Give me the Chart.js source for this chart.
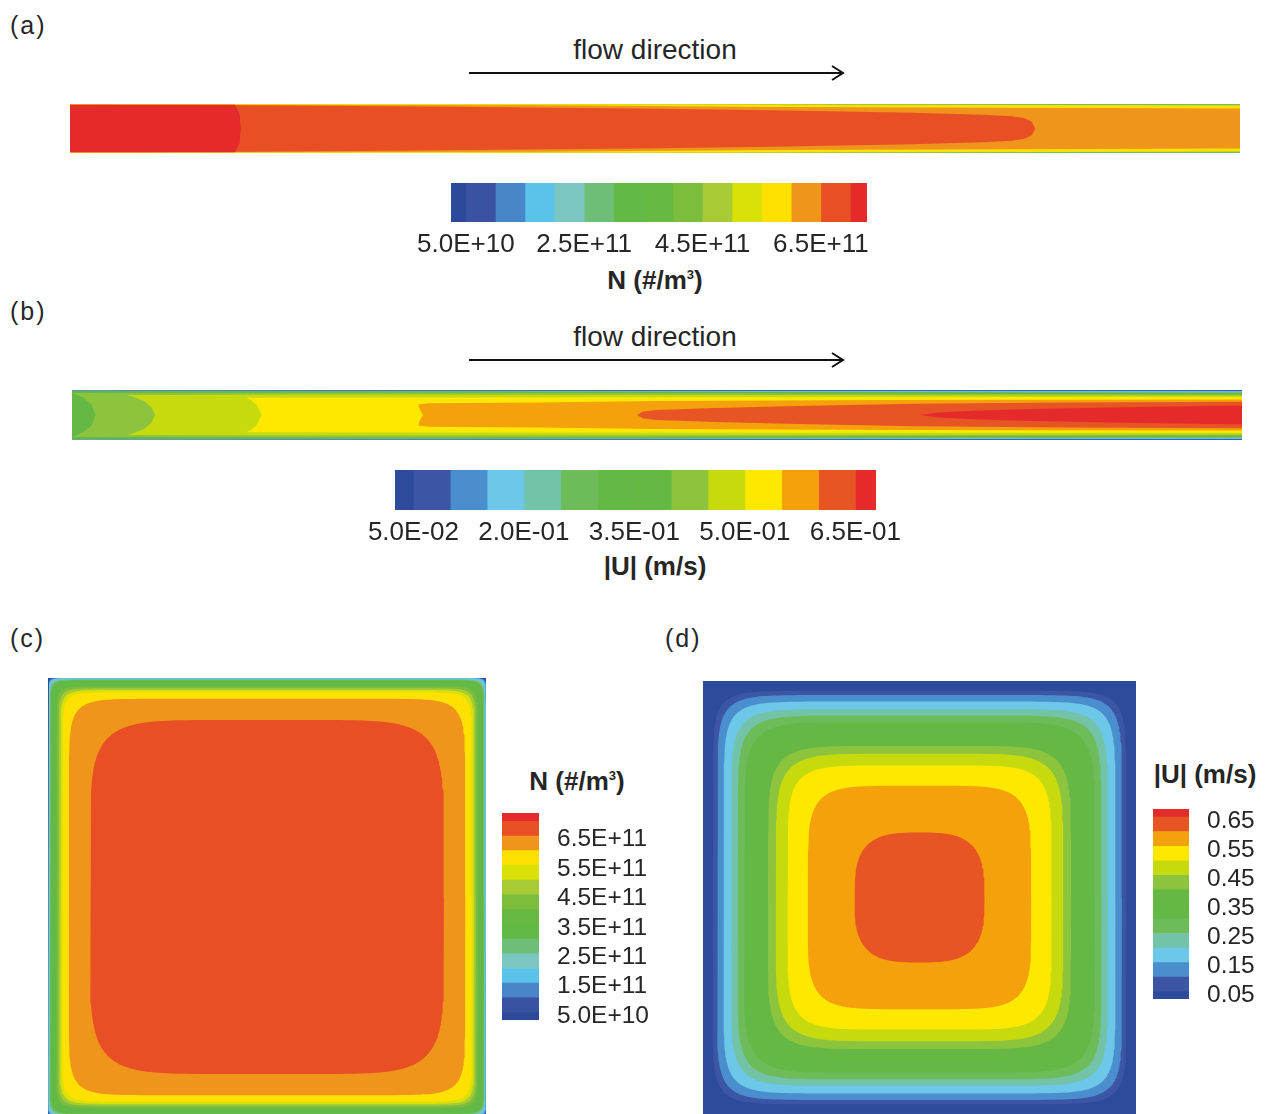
<!DOCTYPE html>
<html>
<head>
<meta charset="utf-8">
<script src="https://cdn.jsdelivr.net/npm/chart.js@4.4.1/dist/chart.umd.min.js"></script>
<style>
  html, body { margin: 0; padding: 0; background: #fff; }
  body { position: relative; width: 1265px; height: 1114px; overflow: hidden;
         font-family: "Liberation Sans", Arial, sans-serif; color: #262626; }
  canvas, .t, svg { position: absolute; }
  .t { white-space: nowrap; line-height: 1; }
  .panel { font-size: 25px; letter-spacing: 2px; }
  .flow { font-size: 28px; transform: translateX(-50%); }
  .ttl { font-size: 26px; font-weight: bold; transform: translateX(-50%); }
  .sup { font-size: 0.5em; position: relative; top: -0.8em; }
</style>
</head>
<body>
<div class="t panel" style="left:10px;top:13px">(a)</div>
<div class="t flow" style="left:655px;top:36px">flow direction</div>
<div class="t panel" style="left:10px;top:299px">(b)</div>
<div class="t flow" style="left:655px;top:323px">flow direction</div>
<div class="t panel" style="left:10px;top:626px">(c)</div>
<div class="t panel" style="left:665px;top:626px">(d)</div>

<svg style="left:0;top:0" width="1265" height="400">
  <g stroke="#111" stroke-width="2" fill="none">
    <path d="M469 73 H842 M832 66 L843 73 L832 80"/>
    <path d="M469 360 H842 M832 353 L843 360 L832 367"/>
  </g>
</svg>

<canvas id="chanA"></canvas>
<canvas id="barA"></canvas>
<div class="t ttl" style="left:655px;top:267px">N (#/m<span class="sup">3</span>)</div>

<canvas id="chanB"></canvas>
<canvas id="barB"></canvas>
<div class="t ttl" style="left:655px;top:553px">|U| (m/s)</div>

<canvas id="secC"></canvas>
<div class="t ttl" style="left:577px;top:768px">N (#/m<span class="sup">3</span>)</div>
<canvas id="barC"></canvas>

<canvas id="secD"></canvas>
<div class="t ttl" style="left:1205px;top:761px">|U| (m/s)</div>
<canvas id="barD"></canvas>

<script>
// contour palettes, low to high
const nColors = ['#2D4A9A', '#3A52A2', '#4886C7', '#5BC2EA', '#7BC6C0', '#6EBE78', '#63B946', '#68B944',
                 '#7DBD3E', '#A7CB34', '#D9E106', '#FEE101', '#EF951C', '#E84F25', '#E42A2B'];
const uColors = ['#2E4A9B', '#3C56A5', '#4A8ECE', '#6CC7E8', '#72C3A8', '#6EBB5A', '#63B846',
                 '#66B844', '#8DC43E', '#C6DA0D', '#FFE800', '#F4A10B', '#E85524', '#E42A2B'];

// contour level edges of the legends
const nEdges = [2.5e10, 5e10, 1e11, 1.5e11, 2e11, 2.5e11, 3e11, 3.5e11, 4e11, 4.5e11,
                5e11, 5.5e11, 6e11, 6.5e11, 7e11, 7.28e11];
const uEdges = [0.025, 0.05, 0.1, 0.15, 0.2, 0.25, 0.3, 0.35, 0.4, 0.45, 0.5, 0.55, 0.6, 0.65, 0.678];

// legend tick labels
const nTicksRow = [5e10, 2.5e11, 4.5e11, 6.5e11];
const uTicksRow = [0.05, 0.2, 0.35, 0.5, 0.65];
const nTicksCol = [5e10, 1.5e11, 2.5e11, 3.5e11, 4.5e11, 5.5e11, 6.5e11];
const uTicksCol = [0.05, 0.15, 0.25, 0.35, 0.45, 0.55, 0.65];

// (a) N along the channel: x in % of length, half-width of each band (wall = 1), painted in order
const chanAColors = ['#6EBE78', '#7DBD3E', '#D9E106', '#FEE101', '#EF951C', '#E84F25', '#E42A2B'];
const chanAX = [
  [0, 100],
  [0, 50, 100],
  [0, 50, 100],
  [0, 50, 100],
  [0, 40, 60, 100],
  [0, 15, 30, 48.7, 60, 72, 78, 80.5, 81.6, 82.2, 82.5],
  [0, 14.1, 14.5, 14.6],
];
const chanAHalf = [
  [1, 1],
  [1, 0.99, 0.965],
  [1, 0.985, 0.945],
  [0.995, 0.975, 0.92],
  [0.98, 0.95, 0.88, 0.82],
  [0.96, 0.95, 0.9, 0.82, 0.74, 0.64, 0.56, 0.5, 0.42, 0.28, 0],
  [0.97, 0.97, 0.6, 0],
];

// (b) |U| along the channel
const chanBColors = ['#2E4A9B', '#3C56A5', '#4A8ECE', '#6CC7E8', '#72C3A8', '#6EBB5A', '#66B844',
                     '#8DC43E', '#C6DA0D', '#FFE800', '#F4A10B', '#E85524', '#E42A2B'];
const chanBX = [
  [0, 100],
  [0, 100],
  [0, 100],
  [0, 100],
  [0, 100],
  [0, 100],
  [0, 50, 100],
  [2.0, 1.7, 1.0, 0.3, 0, 30, 100],
  [7.1, 6.8, 6.2, 5.3, 4.7, 20, 100],
  [16.2, 15.8, 15.3, 14.9, 30, 60, 100],
  [30.0, 29.7, 29.6, 30.5, 40, 50, 70, 100],
  [48.3, 48.8, 50, 55, 62, 72, 85, 100],
  [72.5, 74, 77, 82, 90, 100],
];
const chanBHalf = [
  [1, 1],
  [0.99, 0.985],
  [0.98, 0.97],
  [0.975, 0.95],
  [0.97, 0.92],
  [0.965, 0.9],
  [0.96, 0.93, 0.87],
  [0, 0.4, 0.68, 0.84, 0.88, 0.9, 0.82],
  [0, 0.3, 0.55, 0.72, 0.8, 0.82, 0.78],
  [0, 0.4, 0.6, 0.69, 0.7, 0.71, 0.72],
  [0, 0.25, 0.42, 0.47, 0.5, 0.56, 0.6, 0.62],
  [0, 0.14, 0.2, 0.28, 0.36, 0.45, 0.5, 0.53],
  [0, 0.1, 0.17, 0.24, 0.31, 0.38],
];

// (c) N over the cross-section: half-size of each contour (wall = 1) and its squareness
const secCColors = ['#2D4A9A', '#3A52A2', '#4886C7', '#5BC2EA', '#7BC6C0', '#6EBE78', '#63B946',
                    '#7DBD3E', '#A7CB34', '#D9E106', '#FEE101', '#EF951C', '#E84F25'];
const secCSize = [1, 1, 1, 1, 0.997, 0.993, 0.99, 0.962, 0.953, 0.945, 0.935, 0.905, 0.808];
const secCShape = [Infinity, 120, 80, 60, 50, 42, 36, 30, 27, 24, 22, 13, 6.5];

// (d) |U| over the cross-section
const secDColors = ['#2E4A9B', '#3C56A5', '#4A8ECE', '#6CC7E8', '#72C3A8', '#6EBB5A', '#63B846',
                    '#66B844', '#8DC43E', '#C6DA0D', '#FFE800', '#F4A10B', '#E85524'];
const secDSize = [1, 0.955, 0.935, 0.905, 0.87, 0.84, 0.81, 0.75, 0.7, 0.664, 0.61, 0.516, 0.3];
const secDShape = [Infinity, 12, 11, 10.5, 9.5, 9, 8, 7.5, 7, 6.5, 6.5, 5.5, 3.2];

const FONT = "'Liberation Sans', Arial, sans-serif";
const INK = '#262626';

function place(id, left, top, width, height) {
  const c = document.getElementById(id);
  c.width = width;
  c.height = height;
  c.style.left = left + 'px';
  c.style.top = top + 'px';
  c.style.width = width + 'px';
  c.style.height = height + 'px';
  return c;
}

function sciLabel(v) {
  const [m, e] = v.toExponential(1).split('e');
  const p = parseInt(e, 10);
  return m + 'E' + (p < 0 ? '-' : '+') + String(Math.abs(p)).padStart(2, '0');
}

// band outline mirrored about the channel axis
function channelShape(xs, hs) {
  const upper = xs.map((x, i) => ({ x, y: hs[i] }));
  const lower = upper.slice().reverse().map(p => ({ x: p.x, y: -p.y }));
  return upper.concat(lower);
}

// rounded-square contour line
function squareShape(r, n, count = 240) {
  const pts = [];
  for (let i = 0; i < count; i++) {
    const t = (i / count) * 2 * Math.PI;
    const c = Math.cos(t), s = Math.sin(t);
    pts.push({
      x: r * Math.sign(c) * Math.pow(Math.abs(c), 2 / n),
      y: r * Math.sign(s) * Math.pow(Math.abs(s), 2 / n),
    });
  }
  return pts;
}

function fillDatasets(shapes, colors) {
  return shapes.map((data, i) => ({
    data,
    backgroundColor: colors[i],
    borderColor: 'rgba(0,0,0,0)',
    borderWidth: 0,
    fill: 'shape',
    showLine: true,
    pointRadius: 0,
    pointHoverRadius: 0,
    tension: 0,
    order: shapes.length - i,
  }));
}

function contourChart(id, left, top, width, height, xr, yr, datasets) {
  const canvas = place(id, left, top, width, height);
  return new Chart(canvas, {
    type: 'scatter',
    data: { datasets },
    options: {
      responsive: false,
      animation: false,
      events: [],
      layout: { padding: 0 },
      plugins: { legend: { display: false }, tooltip: { enabled: false } },
      scales: {
        x: { type: 'linear', display: false, min: xr[0], max: xr[1] },
        y: { type: 'linear', display: false, min: yr[0], max: yr[1] },
      },
    },
  });
}

function colorbar(id, box, horizontal, edges, colors, tickVals, fmt, tick) {
  const canvas = place(id, box.left, box.top, box.width, box.height);
  const valueAxis = horizontal ? 'x' : 'y';
  const catAxis = horizontal ? 'y' : 'x';
  const datasets = colors.map((c, i) => ({
    data: [[edges[i], edges[i + 1]]],
    backgroundColor: c,
    borderWidth: 0,
    grouped: false,
    barPercentage: 1,
    categoryPercentage: 1,
  }));
  return new Chart(canvas, {
    type: 'bar',
    data: { labels: [''], datasets },
    options: {
      indexAxis: horizontal ? 'y' : 'x',
      responsive: false,
      animation: false,
      events: [],
      layout: { padding: box.padding },
      plugins: { legend: { display: false }, tooltip: { enabled: false } },
      scales: {
        [catAxis]: { display: false },
        [valueAxis]: {
          type: 'linear',
          position: horizontal ? 'bottom' : 'right',
          min: edges[0],
          max: edges[edges.length - 1],
          grid: { display: false, drawTicks: false },
          border: { display: false },
          afterBuildTicks: s => { s.ticks = tickVals.map(v => ({ value: v })); },
          afterFit: s => { if (horizontal) s.height = box.axis; else s.width = box.axis; },
          ticks: {
            callback: v => fmt(v),
            color: INK,
            font: { family: FONT, size: tick.size },
            padding: tick.padding,
            labelOffset: tick.offset,
            autoSkip: false,
            maxRotation: 0,
          },
        },
      },
    },
  });
}

// (a) channel and legend
contourChart('chanA', 70, 104, 1170, 49, [0, 100], [-1, 1],
  fillDatasets(chanAX.map((xs, i) => channelShape(xs, chanAHalf[i])), chanAColors));
colorbar('barA', { left: 400, top: 183, width: 500, height: 79, axis: 40,
                   padding: { left: 51, right: 33, top: 0, bottom: 0 } },
  true, nEdges, nColors, nTicksRow, sciLabel, { size: 26, padding: 7, offset: 0 });

// (b) channel and legend
contourChart('chanB', 72, 390, 1170, 50, [0, 100], [-1, 1],
  fillDatasets(chanBX.map((xs, i) => channelShape(xs, chanBHalf[i])), chanBColors));
colorbar('barB', { left: 340, top: 470, width: 600, height: 80, axis: 40,
                   padding: { left: 55, right: 64, top: 0, bottom: 0 } },
  true, uEdges, uColors, uTicksRow, sciLabel, { size: 26, padding: 7, offset: 0 });

// (c) cross-section and legend (outer padding keeps the bar clear of the label overhang)
contourChart('secC', 48, 678, 438, 438, [-1, 1], [-1, 1],
  fillDatasets(secCSize.map((r, i) => squareShape(r, secCShape[i])), secCColors));
colorbar('barC', { left: 502, top: 777, width: 170, height: 279, axis: 133,
                   padding: { left: 0, right: 0, top: 36, bottom: 36 } },
  false, nEdges, nColors, nTicksCol, sciLabel, { size: 24.5, padding: 18, offset: 3.5 });

// (d) cross-section and legend
contourChart('secD', 703, 681, 433, 433, [-1, 1], [-1, 1],
  fillDatasets(secDSize.map((r, i) => squareShape(r, secDShape[i])), secDColors));
colorbar('barD', { left: 1153, top: 773, width: 112, height: 262, axis: 76,
                   padding: { left: 0, right: 0, top: 36, bottom: 36 } },
  false, uEdges, uColors, uTicksCol, v => v.toFixed(2), { size: 24.5, padding: 18, offset: 4 });
</script>
</body>
</html>
